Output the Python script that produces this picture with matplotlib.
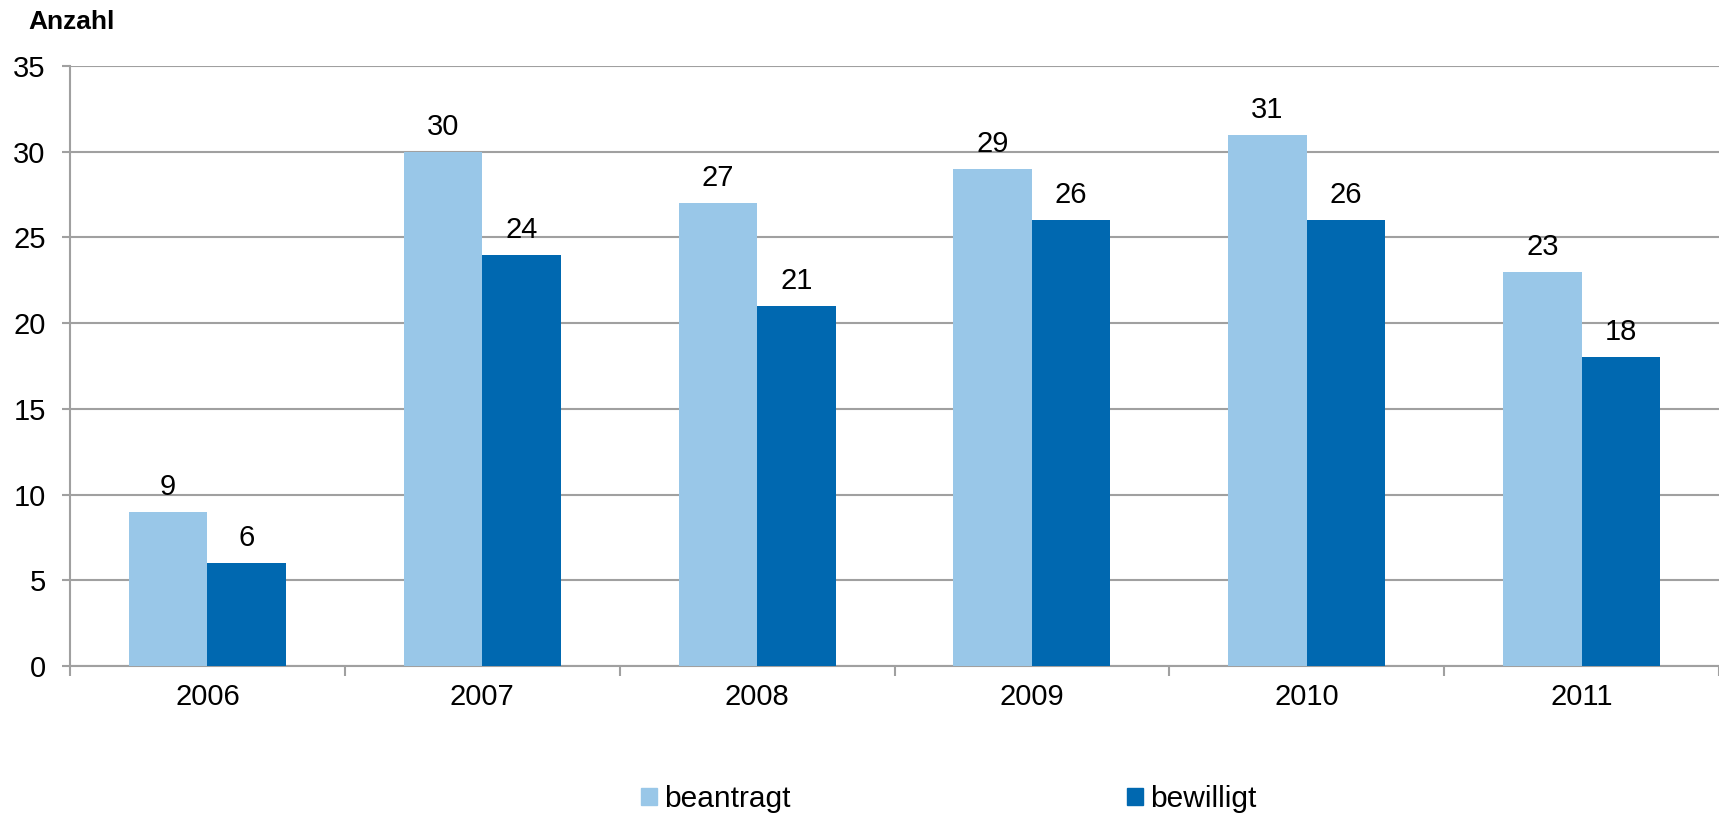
import matplotlib
matplotlib.use('Agg')
import matplotlib.pyplot as plt
import numpy as np
from matplotlib.patches import Patch

plt.rcParams['font.family'] = ['Liberation Sans', 'DejaVu Sans']

# Data
years = ['2006', '2007', '2008', '2009', '2010', '2011']
beantragt = [9, 30, 27, 29, 31, 23]
bewilligt = [6, 24, 21, 26, 26, 18]

light = '#99c7e8'
dark = '#0068b0'
grid_grey = '#a0a0a0'
fs = 21

fig = plt.figure(figsize=(17.19, 8.14), dpi=100)
ax = fig.add_axes([70 / 1719, 1 - 666 / 814, 1 - 70 / 1719, 600 / 814])

x = np.arange(len(years))
w = 1 / 3.5

b1 = ax.bar(x - w / 2, beantragt, w, color=light, zorder=3)
b2 = ax.bar(x + w / 2, bewilligt, w, color=dark, zorder=3)

for bars, vals in ((b1, beantragt), (b2, bewilligt)):
    for r, v in zip(bars, vals):
        ax.annotate(str(v), (r.get_x() + r.get_width() / 2, v),
                    xytext=(0, 18), textcoords='offset points',
                    ha='center', va='center', fontsize=fs)

ax.set_xlim(-0.5, 5.5)
ax.set_ylim(0, 35)
ax.set_yticks(range(0, 36, 5))
ax.yaxis.grid(True, color=grid_grey, linewidth=1.5, zorder=0)

# category boundaries as major ticks, year labels on minor ticks
ax.set_xticks(np.arange(-0.5, 6, 1))
ax.set_xticklabels([])
ax.set_xticks(x, minor=True)
ax.set_xticklabels(years, minor=True)
ax.tick_params(axis='x', which='major', length=7, width=1.5, color=grid_grey, direction='out')
ax.tick_params(axis='x', which='minor', length=0, pad=12, labelsize=fs)
ax.tick_params(axis='y', length=6, width=1.5, color=grid_grey, pad=11.5, labelsize=fs)

for s in ('top', 'right'):
    ax.spines[s].set_visible(False)
for s in ('left', 'bottom'):
    ax.spines[s].set_color(grid_grey)
    ax.spines[s].set_linewidth(1.5)

fig.text(28 / 1719, 1 - 22 / 814, 'Anzahl', fontsize=19, fontweight='bold',
         ha='left', va='center')

handles = [Patch(color=light), Patch(color=dark)]
fig.legend(handles, ['beantragt', 'bewilligt'], loc='center left',
           bbox_to_anchor=(641 / 1719, 1 - 799 / 814), ncol=2, frameon=False,
           fontsize=21.5, handlelength=0.535, handleheight=0.535, handletextpad=0.25,
           columnspacing=11.25, borderaxespad=0, borderpad=0)

fig.savefig('out.png', dpi=100)
